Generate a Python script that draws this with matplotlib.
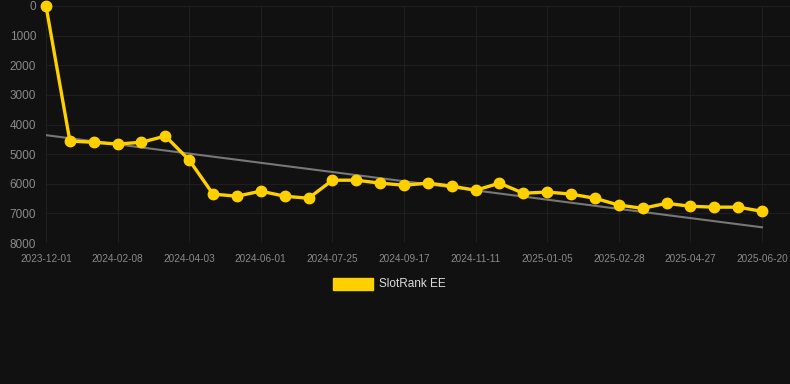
import matplotlib
matplotlib.use("Agg")
import matplotlib.pyplot as plt
import numpy as np

plt.rcParams["font.family"] = ["Liberation Sans", "DejaVu Sans"]

tick_labels = ["2023-12-01", "2024-02-08", "2024-04-03", "2024-06-01", "2024-07-25",
               "2024-09-17", "2024-11-11", "2025-01-05", "2025-02-28", "2025-04-27",
               "2025-06-20"]
tick_step = 3
ranks = [0, 4560, 4600, 4660, 4600, 4390, 5200, 6350, 6420, 6250, 6420, 6490,
         5880, 5880, 5980, 6050, 5980, 6080, 6220, 5980, 6320, 6280, 6350, 6490,
         6720, 6830, 6660, 6760, 6790, 6790, 6930]
trend_start = 4360
trend_end = 7470
series_name = "SlotRank EE"

bg = "#111111"
gold = "#FFD000"

fig = plt.figure(figsize=(7.9, 3.84), dpi=100, facecolor=bg)
ax = fig.add_axes([46/790, 1 - 243/384, (790-46)/790, (243-6)/384])
ax.set_facecolor(bg)

x = np.arange(len(ranks))
ax.plot([x[0], x[-1]], [trend_start, trend_end], color="#777777", lw=1.5, zorder=2)
ax.plot(x, ranks, color=gold, lw=2.4, marker="o", ms=7.5, zorder=3, clip_on=False,
        label=series_name)

ax.set_xlim(0, (790-46) / ((762-46) / (len(ranks) - 1)))
ax.set_ylim(8000, 0)
ax.set_yticks(np.arange(0, 8001, 1000))
ax.set_xticks(x[::tick_step])
ax.set_xticklabels(tick_labels)
ax.grid(True, color="#1f1f1f", lw=0.8)
ax.set_axisbelow(True)
for s in ax.spines.values():
    s.set_visible(False)
ax.tick_params(axis="y", colors="#8a8a8a", labelsize=8.5, length=0, pad=7)
ax.tick_params(axis="x", colors="#8a8a8a", labelsize=7.2, length=0, pad=8)

fig.patches.append(plt.Rectangle((333/790, 1 - 290/384), 40/790, 12/384,
                                 transform=fig.transFigure, color=gold))
fig.text(379/790, 1 - 284/384, series_name, color="#dddddd", fontsize=8.5,
         va="center", ha="left")

fig.savefig("out.png", dpi=100, facecolor=bg)
